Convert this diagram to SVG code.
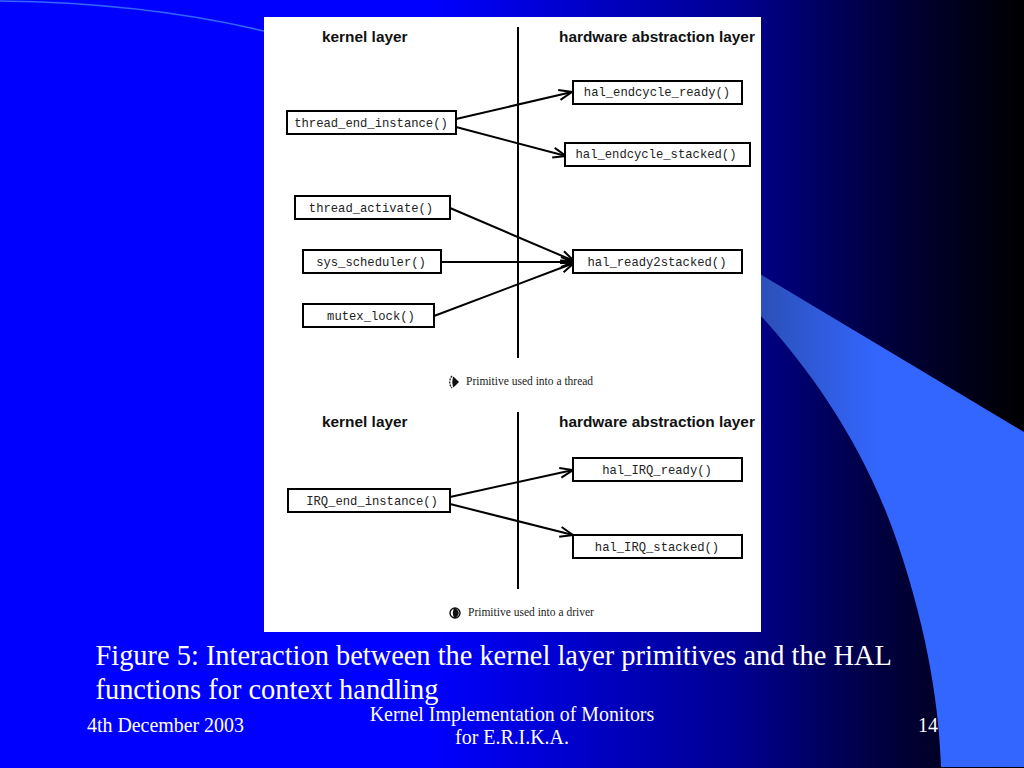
<svg xmlns="http://www.w3.org/2000/svg" width="1024" height="768" viewBox="0 0 1024 768">
<defs>
<linearGradient id="bg" x1="0" y1="0" x2="1" y2="0"><stop offset="0.42" stop-color="#0000ff"/><stop offset="0.72" stop-color="#000090"/><stop offset="0.86" stop-color="#000040"/><stop offset="1" stop-color="#000000"/></linearGradient>
<linearGradient id="swoosh" gradientUnits="userSpaceOnUse" x1="761" y1="0" x2="880" y2="0"><stop offset="0" stop-color="#2c50b8"/><stop offset="1" stop-color="#3366ff"/></linearGradient>
<marker id="arrow" markerUnits="userSpaceOnUse" markerWidth="18" markerHeight="16" refX="14" refY="8" orient="auto" viewBox="0 0 18 16"><path d="M1,3 L14,8 L1,13" fill="none" stroke="#000" stroke-width="2"/></marker>
</defs>
<style>
.box{fill:#fff;stroke:#000;stroke-width:2}
.mono{font-family:"Liberation Mono",monospace;font-size:12.2px;fill:#222;text-anchor:middle}
.head{font-family:"Liberation Sans",Arial,sans-serif;font-weight:bold;font-size:15.4px;fill:#111}
.note{font-family:"Liberation Serif",serif;font-size:11.5px;fill:#222}
.white{font-family:"Liberation Serif",serif;fill:#fff}
.foot{font-size:19.9px}
.cap{font-size:28.4px}
.con{fill:none;stroke:#000;stroke-width:2}
.arr{marker-end:url(#arrow)}
</style>
<g id="background">
<rect width="1024" height="768" fill="url(#bg)"/>
<path d="M0,1 C90,2 180,11 264,31" fill="none" stroke="#3366ff" stroke-width="1.5"/>
<path d="M740,262 L1024,432 L1024,767 L941,767 C939,700 925,620 893,530 C860,440 810,370 761,316 L740,295 Z" fill="url(#swoosh)"/>
</g>
<g id="figure"><rect x="264" y="17" width="497" height="615" fill="#fff"/></g>
<g id="connectors">
<line class="con" x1="518" y1="27" x2="518" y2="358"/>
<line class="con" x1="518" y1="412" x2="518" y2="589"/>
<line class="con arr" x1="456" y1="119" x2="572" y2="92"/>
<line class="con arr" x1="456" y1="127" x2="566" y2="156"/>
<line class="con arr" x1="450" y1="208" x2="574" y2="261"/>
<line class="con arr" x1="441" y1="262" x2="574" y2="262"/>
<line class="con arr" x1="434" y1="316" x2="574" y2="263"/>
<line class="con arr" x1="450" y1="497" x2="573" y2="470"/>
<line class="con arr" x1="450" y1="504" x2="573" y2="535"/>
</g>
<g id="header-top"><text class="head" x="322" y="41.5">kernel layer</text><text class="head" x="559" y="41.5">hardware abstraction layer</text></g>
<g id="thread_end_instance"><rect class="box" x="287" y="111" width="169" height="23"/><text class="mono" x="371" y="127">thread_end_instance()</text></g>
<g id="hal_endcycle_ready"><rect class="box" x="573" y="81" width="169" height="23"/><text class="mono" x="657" y="96">hal_endcycle_ready()</text></g>
<g id="hal_endcycle_stacked"><rect class="box" x="565" y="143" width="185" height="23"/><text class="mono" x="656" y="158">hal_endcycle_stacked()</text></g>
<g id="thread_activate"><rect class="box" x="295" y="196" width="155" height="23"/><text class="mono" x="371" y="212">thread_activate()</text></g>
<g id="sys_scheduler"><rect class="box" x="303" y="250" width="138" height="23"/><text class="mono" x="371" y="266">sys_scheduler()</text></g>
<g id="mutex_lock"><rect class="box" x="303" y="304" width="131" height="23"/><text class="mono" x="371" y="320">mutex_lock()</text></g>
<g id="hal_ready2stacked"><rect class="box" x="573" y="250" width="169" height="23"/><text class="mono" x="657" y="266">hal_ready2stacked()</text></g>
<g id="note-thread">
<path d="M452,376 A9,9 0 0 0 452,388" fill="none" stroke="#222" stroke-width="1.3" stroke-dasharray="2 1"/>
<path d="M453,376.5 L455,378 L459,382 L455,386 L453,387.5 Q451.5,382 453,376.5 Z" fill="#111"/>
<text class="note" x="466" y="385">Primitive used into a thread</text>
</g>
<g id="header-bottom"><text class="head" x="322" y="427">kernel layer</text><text class="head" x="559" y="427">hardware abstraction layer</text></g>
<g id="IRQ_end_instance"><rect class="box" x="288" y="489" width="162" height="23"/><text class="mono" x="372" y="505">IRQ_end_instance()</text></g>
<g id="hal_IRQ_ready"><rect class="box" x="573" y="458" width="169" height="23"/><text class="mono" x="657" y="474">hal_IRQ_ready()</text></g>
<g id="hal_IRQ_stacked"><rect class="box" x="573" y="535" width="169" height="23"/><text class="mono" x="657" y="551">hal_IRQ_stacked()</text></g>
<g id="note-driver">
<circle cx="455" cy="613" r="5" fill="#fff" stroke="#111" stroke-width="1.4"/>
<path d="M454.5,607.5 Q463,613 454.5,618.5 Q451,613 454.5,607.5 Z" fill="#111"/>
<text class="note" x="468" y="616">Primitive used into a driver</text>
</g>
<g id="caption">
<text class="white cap" x="95.5" y="665">Figure 5: Interaction between the kernel layer primitives and the HAL</text>
<text class="white cap" x="95.5" y="699">functions for context handling</text>
</g>
<g id="footer">
<text class="white foot" x="87" y="732">4th December 2003</text>
<text class="white foot" x="512" y="721" text-anchor="middle">Kernel Implementation of Monitors</text>
<text class="white foot" x="512" y="744" text-anchor="middle">for E.R.I.K.A.</text>
<text class="white foot" x="918" y="732">14</text>
</g>
</svg>
